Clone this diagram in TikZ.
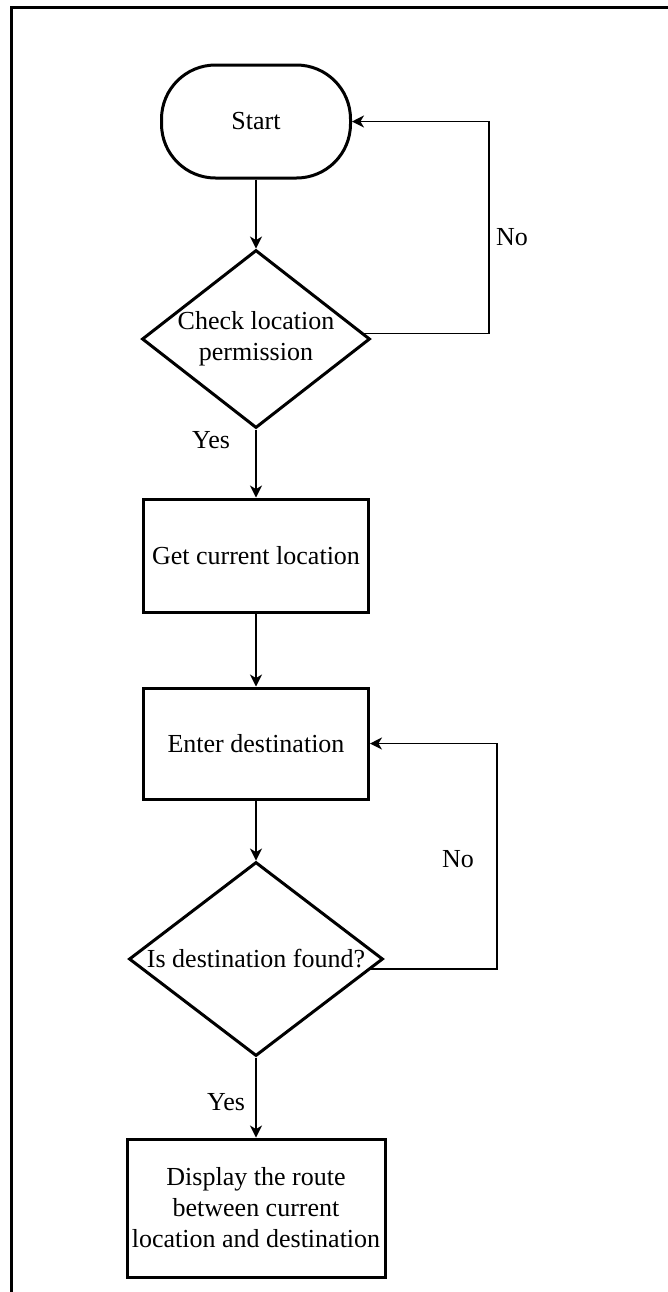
\documentclass[tikz,border=0pt]{standalone}
\usepackage{fontspec}
\setmainfont{Liberation Serif}
\usetikzlibrary{shapes.geometric,arrows.meta}

\begin{document}
\begin{tikzpicture}[x=0.5pt,y=-0.5pt,
  font=\fontsize{13}{15.5}\selectfont,
  shapeline/.style={draw=black,line width=1.5pt,fill=white,inner sep=0pt},
  terminal/.style={shapeline,rectangle,rounded corners=27pt,minimum width=94.5pt,minimum height=56.5pt},
  process/.style={shapeline,rectangle,align=center},
  decision/.style={shapeline,diamond,shape aspect=1},
  conn/.style={draw=black,line width=0.8pt,-{Stealth[length=6pt,width=6pt,inset=1.8pt]}},
  lbl/.style={inner sep=0pt}
]
\useasboundingbox (0,0) rectangle (668,1292);

% page frame (open on the right and at the bottom)
\draw[line width=1.5pt] (668,7) -- (11,7) -- (11,1292);

% flow nodes, all on one vertical axis
\node[terminal] (start) at (256,121.5) {Start};
\node[decision,minimum width=114pt,minimum height=89pt,
      label={[align=center,inner sep=0pt]center:Check location\\permission}] (perm) at (256,339) {};
\node[process,minimum width=112.5pt,minimum height=56.5pt] (getloc) at (256,555.5) {Get current location};
\node[process,minimum width=112.5pt,minimum height=55.5pt] (enter) at (256,743.5) {Enter destination};
\node[decision,minimum width=127pt,minimum height=97pt,
      label={[inner sep=0pt]center:Is destination found?}] (found) at (256,959) {};
\node[process,minimum width=129pt,minimum height=69pt] (route) at (256,1208)
  {Display the route\\between current\\location and destination};

% loop-back corners
\coordinate (loopA) at (489,121.5);
\coordinate (loopB) at (497,743.5);

% connectors
\draw[conn] (start.south) -- (perm.north);
\draw[conn] (perm.south) -- (getloc.north);
\draw[conn] (getloc.south) -- (enter.north);
\draw[conn] (enter.south) -- (found.north);
\draw[conn] (found.south) -- (route.north);
\draw[conn] (perm.3) -| (loopA) -- (start.east);
\draw[conn] (found.-5) -| (loopB) -- (enter.east);

% branch labels
\node[lbl] (noA) at (512,237) {No};
\node[lbl] (yesA) at (211,440) {Yes};
\node[lbl] (noB) at (458,859) {No};
\node[lbl] (yesB) at (226,1102) {Yes};
\end{tikzpicture}
\end{document}
